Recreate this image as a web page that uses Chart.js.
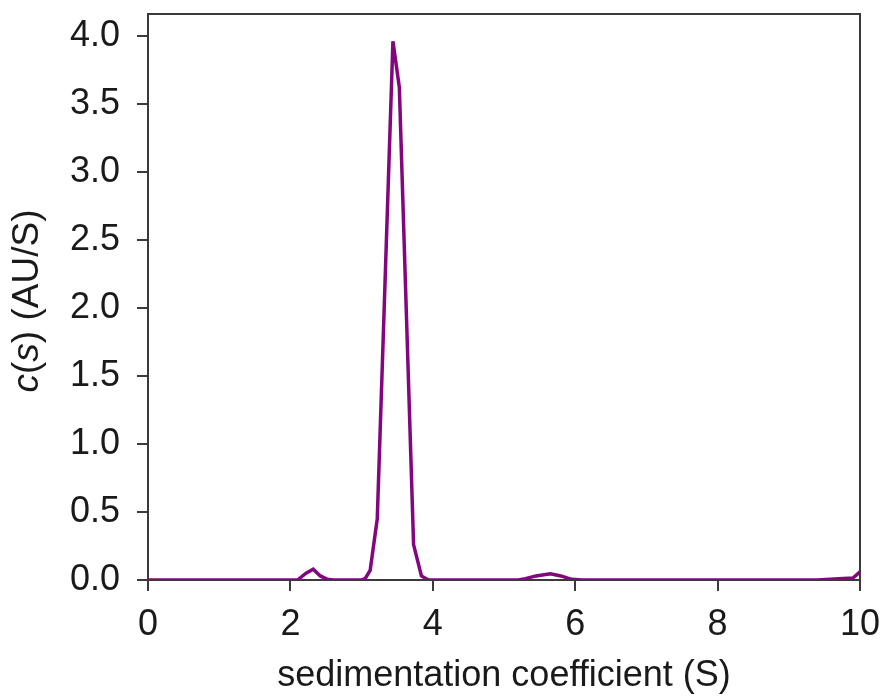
<!DOCTYPE html>
<html lang="en">
  <head>
    <meta charset="UTF-8" />
    <title>c(s) distribution</title>
    <script src="https://cdn.jsdelivr.net/npm/chart.js@4"></script>
    <style>
      html, body { margin: 0; padding: 0; background: #fff; }
      #wrap { position: relative; width: 882px; height: 698px; }
    </style>
  </head>
  <body>
    <div id="wrap"><canvas id="myChart" width="882" height="698"></canvas></div>

    <script>
      // sedimentation coefficient (S) and c(s) values
      const sValues = [0, 2.1, 2.22, 2.32, 2.42, 2.52, 2.6, 3.0, 3.05, 3.12, 3.22, 3.33, 3.44, 3.53, 3.63, 3.73, 3.84, 3.94,
                       5.2, 5.3, 5.45, 5.65, 5.8, 5.95, 6.1, 9.4, 9.7, 9.9, 10];
      const cValues = [0, 0, 0.05, 0.08, 0.03, 0.005, 0, 0, 0.01, 0.07, 0.45, 2.2, 3.96, 3.62, 1.94, 0.26, 0.03, 0,
                       0, 0.01, 0.03, 0.045, 0.03, 0.005, 0, 0, 0.01, 0.015, 0.06];
      const xTicks = [0, 2, 4, 6, 8, 10];
      const yTicks = [0, 0.5, 1.0, 1.5, 2.0, 2.5, 3.0, 3.5, 4.0];

      const xTitle = 'sedimentation coefficient (S)';
      // y title pieces: [text, italic]
      const yTitleParts = [['c', true], ['(', false], ['s', true], [') (AU/S)', false]];

      const fontFamily = '"Liberation Sans", Arial, sans-serif';
      const axisColor = '#3a3a3a';

      // box around the plot + the mixed italic y title
      const framePlugin = {
        id: 'frame',
        afterDraw(chart) {
          const { ctx, chartArea: a } = chart;
          ctx.save();
          ctx.strokeStyle = axisColor;
          ctx.lineWidth = 2;
          ctx.strokeRect(a.left, a.top, a.right - a.left, a.bottom - a.top);

          ctx.translate(28, 301);
          ctx.rotate(-Math.PI / 2);
          ctx.fillStyle = '#1a1a1a';
          ctx.textBaseline = 'middle';
          let total = 0;
          yTitleParts.forEach(([t, it]) => {
            ctx.font = (it ? 'italic ' : '') + '37px ' + fontFamily;
            total += ctx.measureText(t).width;
          });
          let x = -total / 2;
          yTitleParts.forEach(([t, it]) => {
            ctx.font = (it ? 'italic ' : '') + '37px ' + fontFamily;
            ctx.fillText(t, x, 0);
            x += ctx.measureText(t).width;
          });
          ctx.restore();
        }
      };

      const points = sValues.map((s, i) => ({ x: s, y: cValues[i] }));

      const ctx = document.getElementById('myChart').getContext('2d');
      const myChart = new Chart(ctx, {
        type: 'line',
        data: {
          datasets: [
            {
              label: 'c(s)',
              data: points,
              borderColor: '#82077f',
              borderWidth: 3.5,
              pointRadius: 0,
              tension: 0,
              fill: false
            }
          ]
        },
        options: {
          responsive: false,
          animation: false,
          layout: { padding: { top: 14, right: 22, left: 0, bottom: 0 } },
          plugins: { legend: { display: false }, tooltip: { enabled: false } },
          scales: {
            x: {
              type: 'linear',
              min: 0,
              max: 10,
              afterFit: s => { s.height = 118; s.paddingLeft = 0; s.paddingRight = 0; },
              afterBuildTicks: s => { s.ticks = xTicks.map(v => ({ value: v })); },
              grid: { drawOnChartArea: false, drawTicks: true, tickLength: 11, color: axisColor, lineWidth: 2 },
              border: { display: true, color: axisColor, width: 2 },
              ticks: { color: '#1a1a1a', font: { family: fontFamily, size: 36 }, padding: 12, maxRotation: 0 },
              title: { display: true, text: xTitle, color: '#1a1a1a', font: { family: fontFamily, size: 36 }, padding: { top: 4, bottom: 0 } }
            },
            y: {
              min: 0,
              max: 4.16,
              afterFit: s => { s.width = 148; s.paddingTop = 0; s.paddingBottom = 0; },
              afterBuildTicks: s => { s.ticks = yTicks.map(v => ({ value: v })); },
              grid: { drawOnChartArea: false, drawTicks: true, tickLength: 11, color: axisColor, lineWidth: 2 },
              border: { display: true, color: axisColor, width: 2 },
              ticks: { color: '#1a1a1a', font: { family: fontFamily, size: 36 }, padding: 17, callback: v => v.toFixed(1) }
            }
          }
        },
        plugins: [framePlugin]
      });
    </script>
  </body>
</html>
